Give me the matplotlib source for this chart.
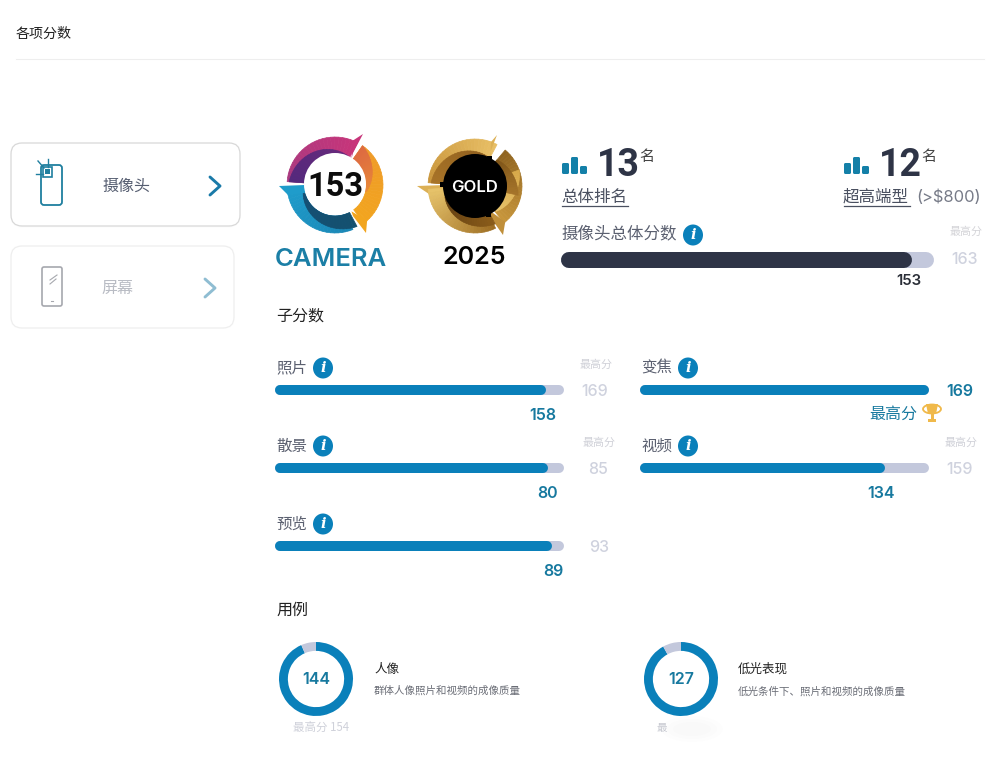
import numpy as np
import matplotlib
matplotlib.use('Agg')
import matplotlib.pyplot as plt
from matplotlib.patches import FancyBboxPatch, Circle, Polygon, Rectangle, Ellipse

plt.rcParams['font.family'] = ['Noto Sans CJK SC', 'DejaVu Sans']

# data
overall_score = 153
overall_max = 163
rank_labels = ['总体排名', '超高端型']
rank_values = [13, 12]
sub_labels = ['照片', '变焦', '散景', '视频', '预览']
sub_scores = [158, 169, 80, 134, 89]
sub_maxes = [169, 169, 85, 159, 93]
use_labels = ['人像', '低光表现']
use_desc = ['群体人像照片和视频的成像质量', '低光条件下、照片和视频的成像质量']
use_scores = [144, 127]
use_maxes = [154, 138]

W, H = 1000, 758
BLUE = '#0a80ba'
TEAL = '#17799f'
TRACK = '#c3c8dc'
DARK = '#2e3446'
GREY = '#5b6070'
PALE = '#cfd2de'
NUM = ['Inter', 'DejaVu Sans']

fig = plt.figure(figsize=(10, 7.58), dpi=100)
ax = fig.add_axes([0, 0, 1, 1])
ax.set_xlim(0, W)
ax.set_ylim(H, 0)
ax.axis('off')


def px(size):
    return size * 0.72


def txt(x, y, s, size, color='#222222', ha='center', **kw):
    ax.text(x, y, s, fontsize=px(size), color=color, ha=ha, va='center', **kw)


def info(x, y):
    ax.add_patch(Ellipse((x, y), 20, 21, color=BLUE, lw=0))
    ax.text(x, y, 'i', fontsize=10.5, color='white', ha='center', va='center',
            family='DejaVu Serif', weight='bold', style='italic')


def hbar(x0, x1, yc, h, val, maxv, color):
    # each bar gets its own small axes so its length comes from the x scale
    a = fig.add_axes([(x0 + h / 2) / W, 1 - (yc + h / 2) / H, (x1 - x0 - h) / W, h / H])
    a.set_xlim(0, maxv)
    a.set_ylim(-1, 1)
    a.axis('off')
    a.plot([0, maxv], [0, 0], lw=px(h), color=TRACK, solid_capstyle='round', clip_on=False)
    a.plot([0, val], [0, 0], lw=px(h), color=color, solid_capstyle='round', clip_on=False)
    return x0 + h + (x1 - x0 - h) * val / maxv


def donut(cx, cy, r, val, maxv):
    a = fig.add_axes([(cx - r) / W, 1 - (cy + r) / H, 2 * r / W, 2 * r / H])
    a.pie([val, maxv - val], colors=[BLUE, TRACK], startangle=90, counterclock=False,
          radius=1, wedgeprops=dict(width=0.24, lw=0))
    a.set_xlim(-1, 1)
    a.set_ylim(-1, 1)


def arc_piece(cx, cy, a0, a1, r0, r1, c0, c1=None, r1_end=None, n=24, z=3):
    # crescent drawn in small steps, colour and outer radius change along the arc
    c0 = np.array(matplotlib.colors.to_rgb(c0))
    c1 = c0 if c1 is None else np.array(matplotlib.colors.to_rgb(c1))
    r1_end = r1 if r1_end is None else r1_end
    t = np.linspace(0, 1, n + 1)
    ang = np.radians(a0 + (a1 - a0) * t)
    rad = r1 + (r1_end - r1) * t
    for i in range(n):
        th = ang[i:i + 2]
        outer = np.c_[cx + rad[i:i + 2] * np.cos(th), cy - rad[i:i + 2] * np.sin(th)]
        inner = np.c_[cx + r0 * np.cos(th[::-1]), cy - r0 * np.sin(th[::-1])]
        col = c0 + (c1 - c0) * (t[i] + t[i + 1]) / 2
        ax.add_patch(Polygon(np.r_[outer, inner], closed=True, fc=col, ec=col, lw=0.5, zorder=z))


def polar(cx, cy, r, a):
    return (cx + r * np.cos(np.radians(a)), cy - r * np.sin(np.radians(a)))


def bars_icon(x, y):
    for dx, top in [(0, 6), (9, 0), (18, 9)]:
        ax.add_patch(FancyBboxPatch((x + dx, y + top), 7, 17 - top, color='#1480a8', lw=0,
                                    boxstyle='round,pad=0,rounding_size=1.5'))


def chevron(x, y, color):
    ax.plot([x - 5, x + 5, x - 5], [y - 9, y, y + 9], color=color, lw=2.1,
            solid_capstyle='round', solid_joinstyle='round')


# header
txt(16, 34, '各项分数', 14, ha='left')
ax.plot([16, 984], [59, 59], color='#eeeeee', lw=0.8)

# left cards
for grow, alpha in [(10, 0.008), (7, 0.012), (4, 0.016), (2, 0.02)]:
    ax.add_patch(FancyBboxPatch((21 - grow, 153 - grow + 2), 209 + 2 * grow, 63 + 2 * grow,
                                boxstyle='round,pad=0,rounding_size=12', color='black',
                                alpha=alpha, lw=0))
ax.add_patch(FancyBboxPatch((11, 143), 229, 83, boxstyle='round,pad=0,rounding_size=11',
                            fc='white', ec='#d8d8d8', lw=0.9))
ax.add_patch(FancyBboxPatch((11, 246), 223, 82, boxstyle='round,pad=0,rounding_size=11',
                            fc='white', ec='#eeeeee', lw=0.9))
txt(126, 186, '摄像头', 16, '#555d70')
txt(117, 288, '屏幕', 16, '#b9bcc4')
chevron(215, 186, '#1a7aa8')
chevron(210, 288, '#8fbdd2')

ax.add_patch(FancyBboxPatch((41, 165), 21, 40, boxstyle='round,pad=0,rounding_size=3',
                            fc='none', ec='#1f7f9f', lw=1.3))
ax.add_patch(Rectangle((43, 167), 9, 10, fc='none', ec='#1f7f9f', lw=1.2))
ax.add_patch(Rectangle((45, 169), 5, 5, color='#1f7f9f', lw=0))
ax.plot([48, 48], [159, 167], color='#1f7f9f', lw=1)
ax.plot([36, 43], [174, 174], color='#1f7f9f', lw=1)
ax.plot([38, 44], [161, 168], color='#1f7f9f', lw=1)
ax.add_patch(FancyBboxPatch((42, 267), 20, 39, boxstyle='round,pad=0,rounding_size=2',
                            fc='none', ec='#a6a8ae', lw=1.2))
ax.plot([50, 57], [280, 275], color='#a6a8ae', lw=0.8)
ax.plot([50, 56], [284, 279], color='#a6a8ae', lw=0.8)
ax.plot([51, 53], [301, 301], color='#a6a8ae', lw=0.8)

# camera badge
cx, cy = 335, 185
arc_piece(cx, cy, 176, 62, 31, 48, '#a83a80', '#c7357a')
ax.add_patch(Polygon([polar(cx, cy, 48, 68), (363, 134), (353, 153), polar(cx, cy, 31, 58)],
                     color='#c7357a', lw=0, zorder=3))
arc_piece(cx, cy, 176, 60, 31, 46, '#54297c', '#6a2a7c', r1_end=31, z=4)
arc_piece(cx, cy, 55, -53, 31, 48, '#ee9a2a', '#f2a51f')
arc_piece(cx, cy, 55, -12, 31, 48, '#dd6a42', '#e98a38', r1_end=32, z=4)
ax.add_patch(Polygon([polar(cx, cy, 48, -48), (366, 233), (353, 216), polar(cx, cy, 31, -58)],
                     color='#f2a51f', lw=0, zorder=3))
arc_piece(cx, cy, 183, 292, 31, 48, '#1f9ccb', '#1a86b5')
arc_piece(cx, cy, 195, 298, 31, 33, '#154f74', '#14506f', r1_end=47, z=4)
ax.add_patch(Polygon([(279, 186), (cx - 30, 185), (cx - 31, 193), (cx - 47, 195)],
                     color='#1f9ccb', lw=0, zorder=3))
ax.add_patch(Circle((cx, cy - 1), 31, color='white', lw=0, zorder=5))
ax.text(cx, cy + 2, str(overall_score), fontsize=23.5, weight='bold', color='#0c0c0c',
        ha='center', va='center', family='Roboto', zorder=6)
ax.text(331, 260, 'CAMERA', fontsize=18.5, weight='semibold', color='#1b7fa6', ha='center',
        va='center', family='Inter')

# gold badge
gx, gy = 475, 186
arc_piece(gx, gy, 176, 62, 30, 47, '#c8943a', '#e8bf66')
ax.add_patch(Polygon([polar(gx, gy, 47, 70), (497, 135), (490, 153), polar(gx, gy, 30, 60)],
                     color='#dcb055', lw=0, zorder=3))
arc_piece(gx, gy, 176, 58, 30, 44, '#a87428', '#8a5a1c', r1_end=31, z=4)
arc_piece(gx, gy, 50, -52, 30, 47, '#8f6420', '#c8963c')
arc_piece(gx, gy, 20, -50, 30, 47, '#d8a94a', '#e7c46e', r1_end=33, z=3)
arc_piece(gx, gy, 50, -12, 30, 34, '#7c5318', '#a5742a', r1_end=44, z=4)
ax.add_patch(Polygon([polar(gx, gy, 47, -50), (503, 235), (491, 218), polar(gx, gy, 30, -58)],
                     color='#c08f3a', lw=0, zorder=3))
ax.add_patch(Polygon([(417, 186), (gx - 30, 185), (gx - 30, 193), (gx - 46, 194)],
                     color='#dcb055', lw=0, zorder=3))
arc_piece(gx, gy, 184, 296, 30, 47, '#e8c46c', '#9c6c22')
arc_piece(gx, gy, 200, 298, 30, 32, '#5d3a10', '#8a5c1a', r1_end=43, z=4)
ax.add_patch(Circle((gx, gy), 32, color='black', lw=0, zorder=5))
for nx, ny in [(443, 184), (490, 158), (489, 214)]:
    ax.add_patch(Rectangle((nx - 3, ny - 2), 5, 5, color='black', lw=0, zorder=5))
ax.text(gx, gy + 2, 'GOLD', fontsize=12, weight='semibold', color='white', ha='center',
        va='center', family='Inter', zorder=6)
ax.text(474, 258, '2025', fontsize=18, weight='semibold', color='black', ha='center',
        va='center', family='Inter')

# rankings
for x0, value, label in zip([562, 844], rank_values, rank_labels):
    bars_icon(x0, 157)
    ax.text(x0 + 35, 165, str(value), fontsize=27, weight='bold', color=DARK, ha='left',
            va='center', family='Roboto')
    txt(x0 + 85, 157, '名', 15, '#444444')
    txt(x0 - 1, 197, label, 16.5, '#4a5060', ha='left')
    ax.plot([x0, x0 + 66], [206, 206], color='#4a5060', lw=0.9)
txt(916, 197, '(>$800)', 16.5, '#777b88', ha='left', family=NUM)

# overall bar
txt(561, 234, '摄像头总体分数', 16.5, GREY, ha='left')
info(693, 235)
txt(966, 232, '最高分', 11, '#d4d4d8')
txt(965, 259, str(overall_max), 16, PALE, family=NUM, weight='medium')
end = hbar(561, 934, 260, 16, overall_score, overall_max, DARK)
txt(end - 3, 281, str(overall_score), 15, '#2b2f38', family=NUM, weight='semibold')

# sub scores
txt(276, 316, '子分数', 16, '#222222', ha='left')
col_x = [(275, 564), (640, 929)]
row_y = [390, 390, 468, 468, 546]
cols = [0, 1, 0, 1, 0]
max_text_x = [596, 961, 599, 961, None]
max_val_x = [595, 960, 598, 960, 599]
val_shift = [-3, 0, 0, -4, 1]
for i, label in enumerate(sub_labels):
    x0, x1 = col_x[cols[i]]
    y = row_y[i]
    txt(x0 + 1, y - 22, label, 15.5, GREY, ha='left')
    info(x0 + 48, y - 22)
    if max_text_x[i] is not None and sub_scores[i] < sub_maxes[i]:
        txt(max_text_x[i], y - 25, '最高分', 11, '#d0d1d8')
    end = hbar(x0, x1, y, 10, sub_scores[i], sub_maxes[i], BLUE)
    if sub_scores[i] == sub_maxes[i]:
        txt(max_val_x[i], y + 1, str(sub_maxes[i]), 16, TEAL, family=NUM, weight='semibold')
        txt(893, y + 24, '最高分', 16, TEAL)
        # trophy
        tx, ty = 932, y + 23
        ax.add_patch(Ellipse((tx, ty - 4), 18, 9, fc='none', ec='#f0b94a', lw=1.3))
        ax.add_patch(Polygon([(tx - 6, ty - 9), (tx + 6, ty - 9), (tx + 4, ty + 1), (tx - 4, ty + 1)],
                             color='#f0b94a', lw=0))
        ax.add_patch(Rectangle((tx - 1.5, ty), 3, 6, color='#f0b94a', lw=0))
        ax.add_patch(Rectangle((tx - 4, ty + 6), 8, 3, color='#f0b94a', lw=0))
    else:
        txt(max_val_x[i], y + 1, str(sub_maxes[i]), 16, PALE, family=NUM, weight='medium')
        txt(end + val_shift[i], y + 25, str(sub_scores[i]), 16, TEAL, family=NUM, weight='semibold')

# use cases
txt(276, 610, '用例', 16, '#222222', ha='left')
for i, cx_d in enumerate([316, 681]):
    donut(cx_d, 679, 37, use_scores[i], use_maxes[i])
    txt(cx_d, 680, str(use_scores[i]), 16, TEAL, family=NUM, weight='semibold')
    tx0 = cx_d + 58 if i == 0 else cx_d + 57
    txt(tx0, 669, use_labels[i], 12.5, '#222222', ha='left')
    txt(tx0, 691, use_desc[i], 10.5, '#6a6d76', ha='left')
txt(321, 727, '最高分 ' + str(use_maxes[0]), 11.5, '#cfd1da')
txt(662, 728, '最', 10.5, '#c6c8d0')
# blurred part of the second caption
for r, alpha in [(26, 0.012), (20, 0.015), (14, 0.015)]:
    ax.add_patch(Ellipse((692, 729), 2 * r + 10, r, color='#888888', alpha=alpha, lw=0))

fig.savefig('out.png', dpi=100)
